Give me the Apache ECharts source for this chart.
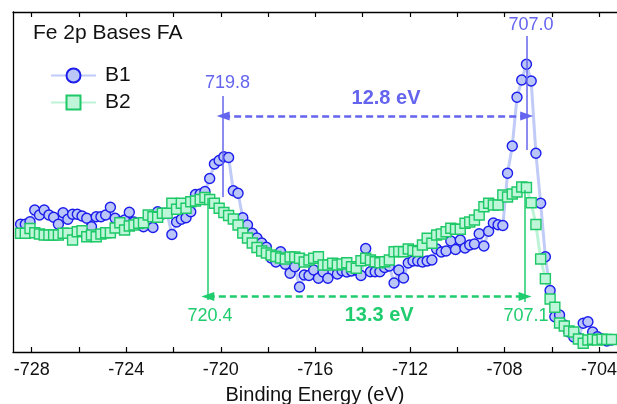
<!DOCTYPE html>
<html>
<head>
<meta charset="utf-8">
<script src="https://cdn.jsdelivr.net/npm/echarts@6/dist/echarts.min.js"></script>
<style>html,body{margin:0;padding:0;background:#fff;overflow:hidden}#c{width:617px;height:404px}</style>
</head>
<body>
<div id="c"></div>
<script>
// Energy grid (binding energy, eV): first point and step
var energyStart = -728.47;
var energyStep = 0.2;
// B1 intensities (arbitrary units)
var b1Values = [127.7,127.7,130.3,142,137,142,137,134.7,127.7,139.3,
132.7,137.7,137.7,136,133.7,125.3,135.3,135.3,137,144.7,
133.7,130,132,139.7,130,128,125.3,130,124.5,140.3,
138,138.7,117.5,130,132.7,134.3,140.3,157.5,158,160.5,
173.5,188,191.5,195.3,194.5,161.3,158.7,134.3,127,118.7,
114,109,104.7,94,90,100.3,87.7,78.7,85.3,65,
77,76.5,82,73.7,80,73.7,88.5,78,81.3,80,
81,82,76.5,103.5,80.3,80.3,80.3,84.5,86,69,
82,74,89,91,91,90,91,92,103,100,
101,111,102.5,112,104,107,108,118.3,106,120.7,
129,127.3,126.5,178.7,206,254.7,272,287.7,271,198.7,
148.7,95.3,61.5,35.3,37,27,20,15,14,28.7,
30.3,20,15.3,13,11,12];
// B2 intensities (arbitrary units)
var b2Values = [118.7,118.7,123.5,119.3,118,117,117,117,117,118.7,
118.7,112,120.3,121.3,115.3,117,115.3,118,119.3,119.3,
124,129.3,122,126,127,128.7,129.3,137,135.3,134.7,
138.7,138.7,148.7,142.7,148.7,143.7,150.3,151,152.5,154.5,
152.5,148.7,143.7,139.5,136.5,133,127,119,114,109,
104.5,101,99,97,95.5,94,93,95,95,93.7,
90,92,93.7,95.3,87,87,88.7,87,88,89.3,
85.3,83.7,91.3,93.7,92,90.3,89.3,90.3,92,100.3,
100.5,100.3,103,101.5,100.5,107,113.7,108.7,117,118,
120.3,123.7,122.7,122.7,128.7,130,132,137,145.3,148.7,
147,147,157,155,158,160,165,164.5,149.3,127.5,
93,73.3,53,44.7,29,26,21,20,13,8.7,
12,12.7,12,12.7,12.5,12.5];
// Axis ticks and labels
var tickValues = [-728,-726,-724,-722,-720,-718,-716,-714,-712,-710,-708,-706,-704];
var labelValues = [-728,-724,-720,-716,-712,-708,-704];
// Peak markers: [label, position]
var b1Peaks = [["719.8",-719.9],["707.0",-707.06]];
var b2Peaks = [["720.4",-720.55],["707.1",-707.13]];
var b1Shift = "12.8 eV";
var b2Shift = "13.3 eV";

var blueA = '#6464ee';
var greenA = '#1fcc6e';
var FONT = 'Liberation Sans, Arial, Helvetica, sans-serif';

function pairs(vals){
  var out = [];
  for (var i = 0; i < vals.length; i++) {
    out.push([+(energyStart + energyStep * i).toFixed(2), vals[i]]);
  }
  return out;
}

var chart = echarts.init(document.getElementById('c'), null, {renderer:'canvas'});
var arrowSym = {symbol:'triangle', symbolSize:[9,13]};
var option = {
  animation:false,
  textStyle:{fontFamily:FONT},
  title:{text:'Fe 2p Bases FA', left:28, top:18, padding:5,
    textStyle:{fontSize:21, fontWeight:'normal', color:'#111', fontFamily:FONT}},
  legend:{orient:'vertical', left:45, top:60, itemWidth:45, itemHeight:17.5, itemGap:6,
    data:['B1','B2'],
    textStyle:{fontSize:21, color:'#111', lineHeight:18, padding:[0,0,0,4], fontFamily:FONT}},
  grid:{left:13, right:0, top:12, bottom:52, containLabel:false, outerBoundsMode:'none'},
  xAxis:[{
    type:'value', position:'bottom', min:-728.79, max:-703.24,
    name:'Binding Energy (eV)', nameLocation:'middle', nameGap:33,
    nameTextStyle:{fontSize:20, color:'#111', fontFamily:FONT},
    axisLine:{show:true, onZero:false, lineStyle:{color:'#000', width:1.3}},
    axisTick:{show:true, inside:true, length:5, customValues:tickValues, lineStyle:{color:'#000', width:1.2}},
    axisLabel:{show:true, customValues:labelValues, fontSize:18, color:'#111', margin:9, fontFamily:FONT},
    splitLine:{show:false}
  },{
    type:'value', position:'top', min:-728.79, max:-703.24,
    axisLine:{show:true, onZero:false, lineStyle:{color:'#000', width:1.3}},
    axisTick:{show:true, inside:true, length:5, customValues:tickValues, lineStyle:{color:'#000', width:1.2}},
    axisLabel:{show:false}, splitLine:{show:false}
  }],
  yAxis:{type:'value', min:0, max:340,
    axisLine:{show:true, onZero:false, lineStyle:{color:'#000', width:1.3}},
    axisTick:{show:false}, axisLabel:{show:false}, splitLine:{show:false}},
  series:[{
    name:'B1', type:'line', data:pairs(b1Values), clip:false,
    symbol:'circle', symbolSize:10,
    lineStyle:{color:'#c0cbf7', width:3},
    itemStyle:{color:'#b9c6f7', borderColor:'#1c1cec', borderWidth:1.4},
    markLine:{silent:true, symbol:['none','none'], label:{show:false},
      lineStyle:{color:blueA, width:1.5, type:'solid'},
      data:[
        [{coord:[b1Peaks[0][1],256]},{coord:[b1Peaks[0][1],155]}],
        [{coord:[b1Peaks[1][1],316]},{coord:[b1Peaks[1][1],202]}],
        [Object.assign({coord:[b1Peaks[0][1],236], lineStyle:{type:[7,4], width:2.5, color:blueA}}, arrowSym),
         Object.assign({coord:[b1Peaks[1][1],236]}, arrowSym)]
      ]},
    markPoint:{silent:true, symbol:'circle', symbolSize:1, itemStyle:{color:'rgba(0,0,0,0)'},
      label:{show:true, position:'inside', color:blueA, fontSize:18, fontFamily:FONT},
      data:[
        {coord:[-719.72,269], label:{formatter:b1Peaks[0][0]}},
        {coord:[-706.88,327], label:{formatter:b1Peaks[1][0]}},
        {coord:[-713.01,254], label:{formatter:b1Shift, fontWeight:'bold', fontSize:20}}
      ]}
  },{
    name:'B2', type:'line', data:pairs(b2Values), clip:false,
    symbol:'rect', symbolSize:10,
    lineStyle:{color:'#bdf3d6', width:3},
    itemStyle:{color:'#bff5d9', borderColor:'#1dc866', borderWidth:1.4},
    markLine:{silent:true, symbol:['none','none'], label:{show:false},
      lineStyle:{color:greenA, width:1.5, type:'solid'},
      data:[
        [{coord:[b2Peaks[0][1],154]},{coord:[b2Peaks[0][1],52]}],
        [{coord:[b2Peaks[1][1],162]},{coord:[b2Peaks[1][1],50]}],
        [Object.assign({coord:[b2Peaks[0][1],55.5], lineStyle:{type:[7,4], width:2.5, color:greenA}}, arrowSym),
         Object.assign({coord:[b2Peaks[1][1],55.5]}, arrowSym)]
      ]},
    markPoint:{silent:true, symbol:'circle', symbolSize:1, itemStyle:{color:'rgba(0,0,0,0)'},
      label:{show:true, position:'inside', color:greenA, fontSize:18, fontFamily:FONT},
      data:[
        {coord:[-720.46,36], label:{formatter:b2Peaks[0][0]}},
        {coord:[-707.09,36], label:{formatter:b2Peaks[1][0]}},
        {coord:[-713.30,37], label:{formatter:b2Shift, fontWeight:'bold', fontSize:20}}
      ]}
  }]
};
chart.setOption(option);
</script>
</body>
</html>
